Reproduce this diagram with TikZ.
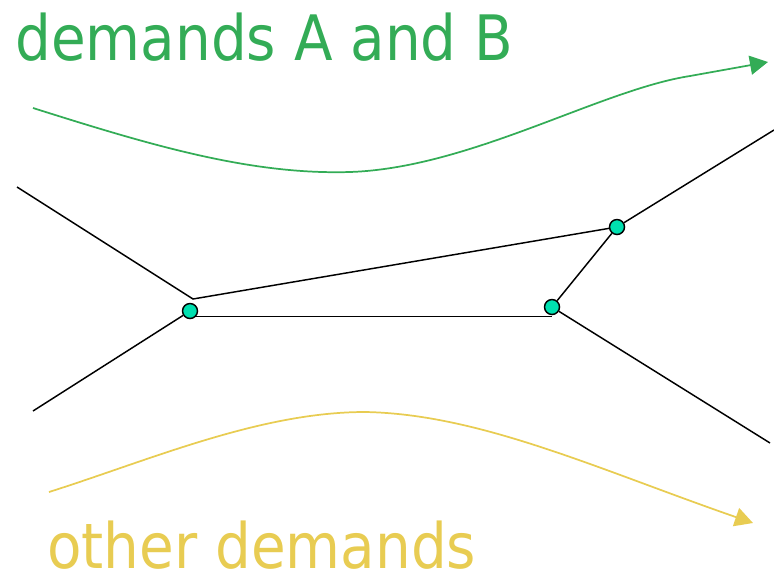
\documentclass[tikz,border=0pt]{standalone}
\usepackage{fontspec}
\usetikzlibrary{arrows.meta,backgrounds}
\newfontfamily\labelfont{DejaVu Sans}[FakeStretch=0.9]
\definecolor{demandgreen}{RGB}{51,172,86}
\definecolor{demandyellow}{RGB}{232,204,82}
\definecolor{routerfill}{RGB}{0,224,176}
\begin{document}
\begin{tikzpicture}[x=0.75pt,y=-0.75pt,
  router/.style={circle,draw=black,fill=routerfill,line width=1.1pt,
                 minimum size=11.25pt,inner sep=0pt},
  link/.style={draw=black,line width=1.1pt},
  flow/.style={line width=1.3pt,-{Triangle[length=13.5pt,width=14.25pt]}},
  caption/.style={anchor=base west,inner sep=0pt,font=\labelfont\fontsize{47}{56}\selectfont}]
  \useasboundingbox (0,0) rectangle (774,579);

  % routers
  \node[router] (L) at (190,311) {};
  \node[router] (M) at (552,307) {};
  \node[router] (N) at (617,227) {};

  % outer ends of the links and the junction above L
  \coordinate (nw) at (17,187);
  \coordinate (sw) at (33,411);
  \coordinate (ne) at (774,130);
  \coordinate (se) at (770,443);
  \coordinate (j)  at (193,299);

  % links, kept behind the routers
  \begin{scope}[on background layer]
    \draw[link] (nw) -- (j) -- (N);
    \draw[link] (sw) -- (L);
    \draw[link] (L.-40) -- (L.-40 -| M.center);
    \draw[link] (M) -- (N);
    \draw[link] (M) -- (se);
    \draw[link] (N) -- (ne);
  \end{scope}

  % demand flows
  \coordinate (gs) at (33,108);
  \coordinate (ge) at (768,62);
  \draw[flow,demandgreen] (gs) .. controls (150,145) and (250,175) .. (350,172)
        .. controls (470,168) and (600,90) .. (690,76) -- (ge);
  \coordinate (ys) at (49,492);
  \coordinate (ye) at (753,523);
  \draw[flow,demandyellow] (ys) .. controls (150,460) and (260,412) .. (365,412)
        .. controls (480,414) and (600,470) .. (ye);

  % captions
  \node[caption,text=demandgreen] (tA) at (15,60) {demands A and B};
  \node[caption,text=demandyellow] (tO) at (47,568) {other demands};
\end{tikzpicture}
\end{document}
